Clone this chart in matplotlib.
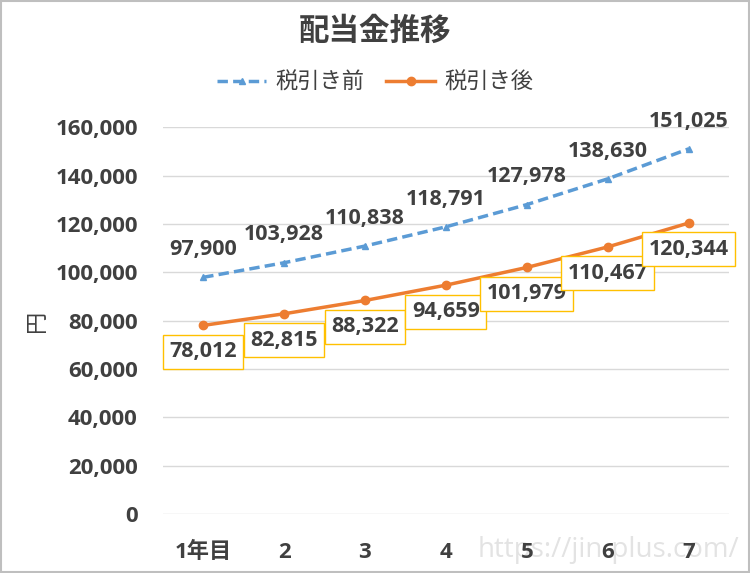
import matplotlib.pyplot as plt
from matplotlib.patches import Rectangle
from matplotlib.ticker import FuncFormatter

plt.rcParams['font.family'] = ['Open Sans', 'Noto Sans CJK JP']

years = ['1年目', '2', '3', '4', '5', '6', '7']
before_tax = [97900, 103928, 110838, 118791, 127978, 138630, 151025]
after_tax = [78012, 82815, 88322, 94659, 101979, 110467, 120344]

text_col = '#404040'
blue = '#5B9BD5'
orange = '#ED7D31'

fig = plt.figure(figsize=(7.5, 5.73), dpi=100)
ax = fig.add_axes([0.217, 0.103, 0.755, 0.675])
ax.set_facecolor('none')

x = list(range(1, len(years) + 1))
ax.plot(x, before_tax, color=blue, lw=2.5, ls=(0, (3, 1.5)), marker='^', ms=5,
        label='税引き前')
ax.plot(x, after_tax, color=orange, lw=2.5, marker='o', ms=6, label='税引き後')

for xi, v in zip(x, before_tax):
    ax.annotate(f'{v:,}', (xi, v), xytext=(0, 20), textcoords='offset points',
                ha='center', va='center', fontsize=15.5, fontweight='bold', color=text_col)
for xi, v in zip(x, after_tax):
    ax.annotate(f'{v:,}', (xi, v), xytext=(0, -19), textcoords='offset points',
                ha='center', va='center', fontsize=15.5, fontweight='bold', color=text_col,
                bbox=dict(boxstyle='square,pad=0.3', fc='white', ec='#FFC000', lw=1))

ax.set_xlim(0.5, 7.5)
ax.set_ylim(0, 160000)
ax.set_yticks(range(0, 160001, 20000))
ax.yaxis.set_major_formatter(FuncFormatter(lambda v, p: f'{int(v):,}'))
ax.set_xticks(x)
ax.set_xticklabels(years)
ax.grid(axis='y', color='#D9D9D9', lw=1)
ax.set_axisbelow(True)
for s in ax.spines.values():
    s.set_visible(False)
ax.tick_params(axis='y', length=0, labelsize=16, labelcolor=text_col, pad=18)
ax.tick_params(axis='x', length=0, labelsize=16, labelcolor=text_col, pad=20)
for lab in ax.get_xticklabels() + ax.get_yticklabels():
    lab.set_fontweight('bold')
ax.set_ylabel('円', fontsize=16, color=text_col, labelpad=5)

fig.text(0.5, 0.945, '配当金推移', ha='center', va='center', fontsize=22,
         fontweight='bold', color=text_col)
fig.legend(loc='center', bbox_to_anchor=(0.5, 0.855), ncol=2, frameon=False,
           fontsize=16, labelcolor=text_col, handlelength=2.2, columnspacing=1.0,
           handletextpad=0.4)

fig.text(0.985, 0.04, 'https://jin-plus.com/', ha='right', va='center',
         fontsize=20, color='#E3E3E3', zorder=-1)
fig.patches.append(Rectangle((0.001, 0.001), 0.997, 0.997, transform=fig.transFigure,
                             fill=False, ec='#BFBFBF', lw=1.5))

fig.savefig('out.png', dpi=100)
